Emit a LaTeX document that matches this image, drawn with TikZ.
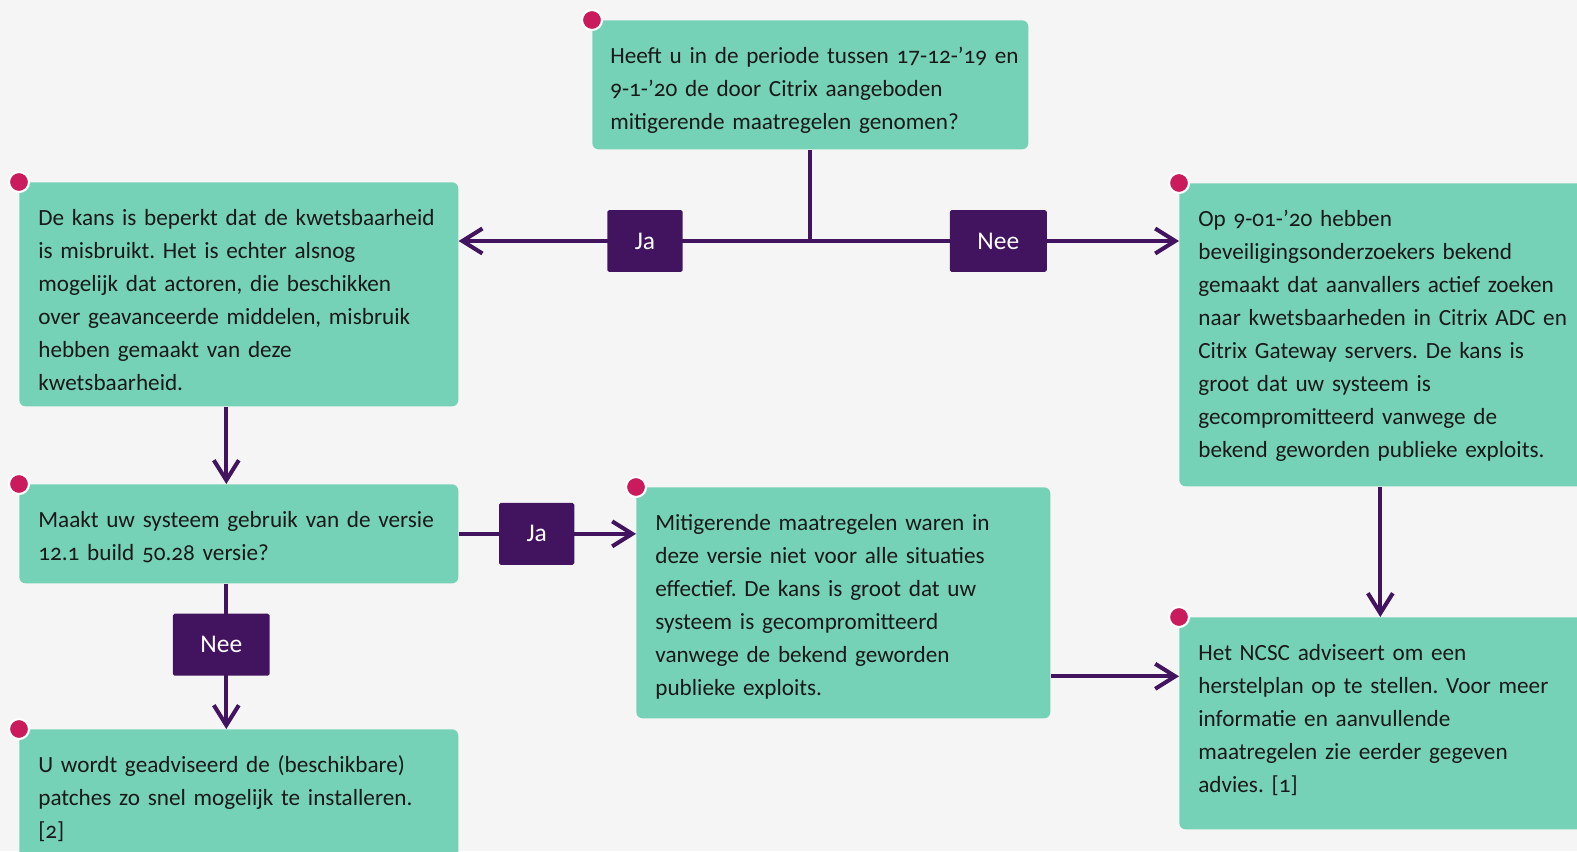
\documentclass[tikz,border=0pt]{standalone}
\usepackage{fontspec}
\setmainfont{Carlito}[Numbers=OldStyle]
\usetikzlibrary{arrows.meta}
\definecolor{achtergrond}{HTML}{F5F5F5}
\definecolor{mint}{HTML}{76D2B6}
\definecolor{paars}{HTML}{42145F}
\definecolor{robijn}{HTML}{CA1C5C}
\frenchspacing
\tikzset{
  every node/.style = {font = \fontsize{13.2}{18.8}\selectfont}
}
\tikzset{
    >={Straight Barb[length=4mm,width=5mm]}
}
\tikzset{
  stap/.style = {fill=mint, rounded corners=3.5pt, anchor=north west, align=left,
    inner xsep=0.38cm, inner ysep=0pt, text=black!90, text height=24.5pt},
  keuze/.style = {fill=paars, text=white, rounded corners=1pt, font=\fontsize{14.5}{17}\selectfont,
    minimum height=1.24cm, inner xsep=0.55cm},
  lijn/.style = {draw=paars, line width=2.3pt},
  stip/.style = {fill=robijn, draw=white, line width=1.2pt}
}

\begin{document}
\begin{tikzpicture}[x=0.02cm, y=-0.02cm]
% Page size and background
\useasboundingbox (0,0) rectangle (1577,851);
\fill[achtergrond] (0,0) rectangle (1577,851);
\clip (0,0) rectangle (1577,851);

% The boxes (text depth = box height - text height)
\node[stap, text width=8cm, inner xsep=0.36cm, text depth=48.91pt] (vraag) at (592,20)
  {\mbox{Heeft u in de periode tussen 17-12-’19 en}\\ 9-1-’20 de door Citrix aangeboden\\ mitigerende maatregelen genomen?};
\node[stap, text width=8.02cm, text depth=102.97pt] (kans) at (19,182)
  {De kans is beperkt dat de kwetsbaarheid\\ is misbruikt. Het is echter alsnog\\ mogelijk dat actoren, die beschikken\\ over geavanceerde middelen, misbruik\\ hebben gemaakt van deze\\ kwetsbaarheid.};
\node[stap, text width=7.66cm, text depth=147.92pt] (gevaar) at (1179,183)
  {Op 9-01-’20 hebben\\ beveiligingsonderzoekers bekend\\ gemaakt dat aanvallers actief zoeken\\ naar kwetsbaarheden in Citrix ADC en\\ Citrix Gateway servers. De kans is\\ groot dat uw systeem is\\ gecompromitteerd vanwege de\\ bekend geworden publieke exploits.};
\node[stap, text width=8.02cm, text depth=31.84pt] (versie) at (19,484)
  {Maakt uw systeem gebruik van de versie\\ 12.1 build 50.28 versie?};
\node[stap, text width=7.52cm, text depth=106.95pt] (mitigatie) at (636,487)
  {Mitigerende maatregelen waren in\\ deze versie niet voor alle situaties\\ effectief. De kans is groot dat uw\\ systeem is gecompromitteerd\\ vanwege de bekend geworden\\ publieke exploits.};
\node[stap, text width=7.66cm, text depth=96.14pt] (herstel) at (1179,617)
  {Het NCSC adviseert om een\\ herstelplan op te stellen. Voor meer\\ informatie en aanvullende\\ maatregelen zie eerder gegeven\\ advies. [1]};
\node[stap, text width=8.02cm, text depth=52.89pt] (patches) at (19,729)
  {U wordt geadviseerd de (beschikbare)\\ patches zo snel mogelijk te installeren.\\ {[2]}};

% Connectors
\coordinate (splits) at (vraag.south |- 0,241);
\draw[lijn] (vraag.south) -- (splits);
\draw[lijn,->] (splits) -- node[keuze, pos=0.47] (ja1) {Ja} (splits -| kans.east);
\draw[lijn,->] (splits) -- node[keuze, pos=0.51] (nee1) {Nee} (splits -| gevaar.west);
\draw[lijn,->] ([xshift=-0.25cm]kans.south) -- ([xshift=-0.25cm]versie.north);
\draw[lijn,->] (versie.east) -- node[keuze, pos=0.44] (ja2) {Ja} (versie.east -| mitigatie.west);
\draw[lijn,->] ([xshift=-0.25cm]versie.south) -- node[keuze, pos=0.42, xshift=-0.1cm] (nee2) {Nee} ([xshift=-0.25cm]patches.north);
\draw[lijn,->] ([xshift=-0.19cm]gevaar.south) -- ([xshift=-0.19cm]herstel.north);
\draw[lijn,->] ([yshift=-1.47cm]mitigatie.east) -- ([yshift=-1.47cm]mitigatie.east -| herstel.west);

% Red dots
\draw[stip] (vraag.north west) circle (0.2cm);
\draw[stip] (kans.north west) circle (0.2cm);
\draw[stip] (gevaar.north west) circle (0.2cm);
\draw[stip] (versie.north west) circle (0.2cm);
\draw[stip] (mitigatie.north west) circle (0.2cm);
\draw[stip] (herstel.north west) circle (0.2cm);
\draw[stip] (patches.north west) circle (0.2cm);
\end{tikzpicture}
\end{document}
